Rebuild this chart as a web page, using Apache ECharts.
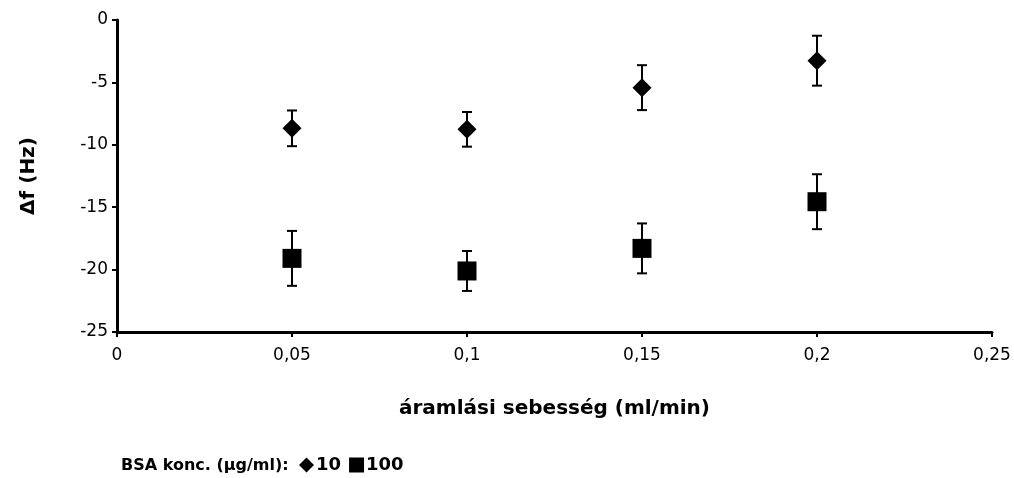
<!DOCTYPE html>
<html>
<head>
<meta charset="utf-8">
<script src="https://cdn.jsdelivr.net/npm/echarts@6/dist/echarts.min.js"></script>
<style>
  html, body { margin: 0; padding: 0; background: #fff; }
  #chart { width: 1014px; height: 478px; }
</style>
</head>
<body>
<div id="chart"></div>
<script>
// flow rate (ml/min)
const flowRates = [0.05, 0.1, 0.15, 0.2];
// BSA 10 µg/ml
const bsa10 = [-8.68, -8.76, -5.42, -3.26];
const bsa10Err = [1.43, 1.39, 1.8, 2.0];
// BSA 100 µg/ml
const bsa100 = [-19.1, -20.11, -18.3, -14.56];
const bsa100Err = [2.2, 1.6, 2.0, 2.2];

const font = "'DejaVu Sans', 'Liberation Sans', sans-serif";
const comma = (v) => String(+v.toFixed(2)).replace(".", ",");

function errData(vals, errs) {
  return flowRates.map((x, i) => [x, vals[i] - errs[i], vals[i] + errs[i]]);
}

function renderErr(params, api) {
  const x = api.value(0);
  const lo = api.coord([x, api.value(1)]);
  const hi = api.coord([x, api.value(2)]);
  const half = 5;
  const style = { stroke: "#000", lineWidth: 2 };
  return {
    type: "group",
    children: [
      { type: "line", shape: { x1: lo[0], y1: lo[1], x2: hi[0], y2: hi[1] }, style },
      { type: "line", shape: { x1: lo[0] - half, y1: lo[1], x2: lo[0] + half, y2: lo[1] }, style },
      { type: "line", shape: { x1: hi[0] - half, y1: hi[1], x2: hi[0] + half, y2: hi[1] }, style },
    ],
  };
}

const chart = echarts.init(document.getElementById("chart"));
chart.setOption({
  animation: false,
  textStyle: { fontFamily: font },
  grid: { left: 117, right: 22, top: 20, bottom: 146, containLabel: false },
  title: {
    text: "BSA konc. (µg/ml):",
    left: 121,
    top: 457,
    padding: 0,
    textStyle: { fontFamily: font, fontSize: 16, fontWeight: "bold", color: "#000", lineHeight: 18 },
  },
  legend: {
    left: 299,
    top: 456,
    padding: 0,
    itemGap: 8,
    itemWidth: 15,
    itemHeight: 15,
    itemStyle: { color: "#000" },
    textStyle: { fontFamily: font, fontSize: 18, fontWeight: "bold", color: "#000", padding: [0, 0, 0, -3] },
    data: [
      { name: "10", icon: "diamond", itemStyle: { color: "#000" } },
      { name: "100", icon: "rect", itemStyle: { color: "#000" } },
    ],
  },
  xAxis: {
    type: "value",
    min: 0,
    max: 0.25,
    interval: 0.05,
    name: "áramlási sebesség (ml/min)",
    nameLocation: "middle",
    nameGap: 67,
    nameTextStyle: { fontFamily: font, fontSize: 20, fontWeight: "bold", color: "#000" },
    axisLine: { onZero: false, lineStyle: { color: "#000", width: 3 } },
    axisTick: { show: true, length: 5, lineStyle: { color: "#000", width: 2 } },
    axisLabel: { formatter: comma, fontSize: 17, color: "#000", margin: 15 },
    splitLine: { show: false },
  },
  yAxis: {
    type: "value",
    min: -25,
    max: 0,
    interval: 5,
    name: "Δf (Hz)",
    nameLocation: "middle",
    nameGap: 78,
    nameRotate: 90,
    nameTextStyle: { fontFamily: font, fontSize: 20, fontWeight: "bold", color: "#000" },
    axisLine: { show: true, onZero: false, lineStyle: { color: "#000", width: 3 } },
    axisTick: { show: true, length: 5, lineStyle: { color: "#000", width: 2 } },
    axisLabel: { fontSize: 17, color: "#000", margin: 9 },
    splitLine: { show: false },
  },
  series: [
    {
      type: "custom",
      name: "err10",
      renderItem: renderErr,
      data: errData(bsa10, bsa10Err),
      z: 1,
      silent: true,
    },
    {
      type: "custom",
      name: "err100",
      renderItem: renderErr,
      data: errData(bsa100, bsa100Err),
      z: 1,
      silent: true,
    },
    {
      type: "scatter",
      name: "10",
      symbol: "diamond",
      symbolSize: [19, 19],
      itemStyle: { color: "#000", opacity: 1 },
      data: flowRates.map((x, i) => [x, bsa10[i]]),
      z: 3,
    },
    {
      type: "scatter",
      name: "100",
      symbol: "rect",
      symbolSize: [19, 19],
      itemStyle: { color: "#000", opacity: 1 },
      data: flowRates.map((x, i) => [x, bsa100[i]]),
      z: 3,
    },
  ],
});
</script>
</body>
</html>
